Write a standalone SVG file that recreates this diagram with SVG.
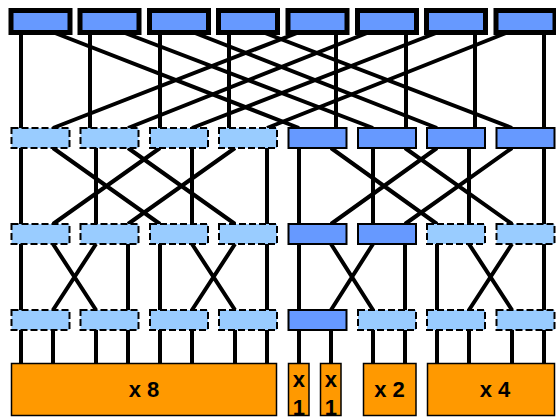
<svg xmlns="http://www.w3.org/2000/svg" width="556" height="417" viewBox="0 0 556 417">
  <style>
    .wire { stroke: #000; stroke-width: 4; fill: none; }
    .core { fill: #6699FF; stroke: #000; stroke-width: 5; }
    .on { fill: #6699FF; stroke: #000; stroke-width: 2; }
    .off { fill: #99CCFF; stroke: #000; stroke-width: 2; stroke-dasharray: 7 3; }
    .host { fill: #FF9900; stroke: #000; stroke-width: 1.5; }
    .lbl { font-family: "Liberation Sans", Arial, sans-serif; font-weight: bold; font-size: 22px; fill: #000; text-anchor: middle; }
  </style>

  <!-- connectors -->
  <g id="connectors" class="wire">
    <!-- core to aggregation -->
    <path d="M21 33V128 M90 33V128 M160 33V128 M229 33V128 M336 33V128 M406 33V128 M475 33V128 M544 33V128"/>
    <path d="M55 33L299 128 M125 33L373 128 M195 33L437 128 M265 33L512 128"/>
    <path d="M297 33L53 128 M367 33L128 128 M436 33L192 128 M506 33L267 128"/>
    <!-- aggregation to second stage -->
    <path d="M21 148V224 M96 148V224 M192 148V224 M267 148V224 M299 148V224 M373 148V224 M469 148V224 M544 148V224"/>
    <path d="M53 148L160 224 M128 148L235 224 M160 148L53 224 M235 148L128 224"/>
    <path d="M331 148L437 224 M405 148L512 224 M437 148L331 224 M512 148L405 224"/>
    <!-- second stage to edge -->
    <path d="M21 244V310 M128 244V310 M160 244V310 M267 244V310 M299 244V310 M405 244V310 M437 244V310 M544 244V310"/>
    <path d="M53 244L96 310 M96 244L53 310 M192 244L235 310 M235 244L192 310"/>
    <path d="M331 244L373 310 M373 244L331 310 M469 244L512 310 M512 244L469 310"/>
    <!-- edge to hosts -->
    <path d="M21 330V364 M53 330V364 M96 330V364 M128 330V364 M160 330V364 M192 330V364 M235 330V364 M267 330V364"/>
    <path d="M299 330V364 M331 330V364 M373 330V364 M405 330V364 M437 330V364 M469 330V364 M512 330V364 M544 330V364"/>
  </g>

  <!-- core row -->
  <g id="core-1"><rect class="core" x="11" y="10.5" width="59" height="22"/></g>
  <g id="core-2"><rect class="core" x="80" y="10.5" width="59" height="22"/></g>
  <g id="core-3"><rect class="core" x="149.5" y="10.5" width="59" height="22"/></g>
  <g id="core-4"><rect class="core" x="218.5" y="10.5" width="59" height="22"/></g>
  <g id="core-5"><rect class="core" x="288" y="10.5" width="59" height="22"/></g>
  <g id="core-6"><rect class="core" x="357.5" y="10.5" width="59" height="22"/></g>
  <g id="core-7"><rect class="core" x="426.5" y="10.5" width="59" height="22"/></g>
  <g id="core-8"><rect class="core" x="496" y="10.5" width="59" height="22"/></g>

  <!-- aggregation row -->
  <g id="agg-1"><rect class="off" x="11.5" y="128" width="58" height="20"/></g>
  <g id="agg-2"><rect class="off" x="80.5" y="128" width="58" height="20"/></g>
  <g id="agg-3"><rect class="off" x="150" y="128" width="58" height="20"/></g>
  <g id="agg-4"><rect class="off" x="219" y="128" width="58" height="20"/></g>
  <g id="agg-5"><rect class="on" x="288.5" y="128" width="58" height="20"/></g>
  <g id="agg-6"><rect class="on" x="358" y="128" width="58" height="20"/></g>
  <g id="agg-7"><rect class="on" x="427" y="128" width="58" height="20"/></g>
  <g id="agg-8"><rect class="on" x="496.5" y="128" width="58" height="20"/></g>

  <!-- second stage row -->
  <g id="mid-1"><rect class="off" x="11.5" y="224" width="58" height="20"/></g>
  <g id="mid-2"><rect class="off" x="80.5" y="224" width="58" height="20"/></g>
  <g id="mid-3"><rect class="off" x="150" y="224" width="58" height="20"/></g>
  <g id="mid-4"><rect class="off" x="219" y="224" width="58" height="20"/></g>
  <g id="mid-5"><rect class="on" x="288.5" y="224" width="58" height="20"/></g>
  <g id="mid-6"><rect class="on" x="358" y="224" width="58" height="20"/></g>
  <g id="mid-7"><rect class="off" x="427" y="224" width="58" height="20"/></g>
  <g id="mid-8"><rect class="off" x="496.5" y="224" width="58" height="20"/></g>

  <!-- edge row -->
  <g id="edge-1"><rect class="off" x="11.5" y="310" width="58" height="20"/></g>
  <g id="edge-2"><rect class="off" x="80.5" y="310" width="58" height="20"/></g>
  <g id="edge-3"><rect class="off" x="150" y="310" width="58" height="20"/></g>
  <g id="edge-4"><rect class="off" x="219" y="310" width="58" height="20"/></g>
  <g id="edge-5"><rect class="on" x="288.5" y="310" width="58" height="20"/></g>
  <g id="edge-6"><rect class="off" x="358" y="310" width="58" height="20"/></g>
  <g id="edge-7"><rect class="off" x="427" y="310" width="58" height="20"/></g>
  <g id="edge-8"><rect class="off" x="496.5" y="310" width="58" height="20"/></g>

  <!-- host groups -->
  <g id="hosts-x8">
    <rect class="host" x="11.5" y="363.5" width="265" height="52"/>
    <text class="lbl" x="144" y="397">x 8</text>
  </g>
  <g id="hosts-x1a">
    <rect class="host" x="288.5" y="363.5" width="20.5" height="52"/>
    <text class="lbl" x="298.8" y="387">x<tspan x="298.8" y="415">1</tspan></text>
  </g>
  <g id="hosts-x1b">
    <rect class="host" x="320.5" y="363.5" width="20.5" height="52"/>
    <text class="lbl" x="330.8" y="387">x<tspan x="330.8" y="415">1</tspan></text>
  </g>
  <g id="hosts-x2">
    <rect class="host" x="363.5" y="363.5" width="52.5" height="52"/>
    <text class="lbl" x="389.5" y="397">x 2</text>
  </g>
  <g id="hosts-x4">
    <rect class="host" x="427.5" y="363.5" width="127" height="52"/>
    <text class="lbl" x="495" y="397">x 4</text>
  </g>
</svg>
